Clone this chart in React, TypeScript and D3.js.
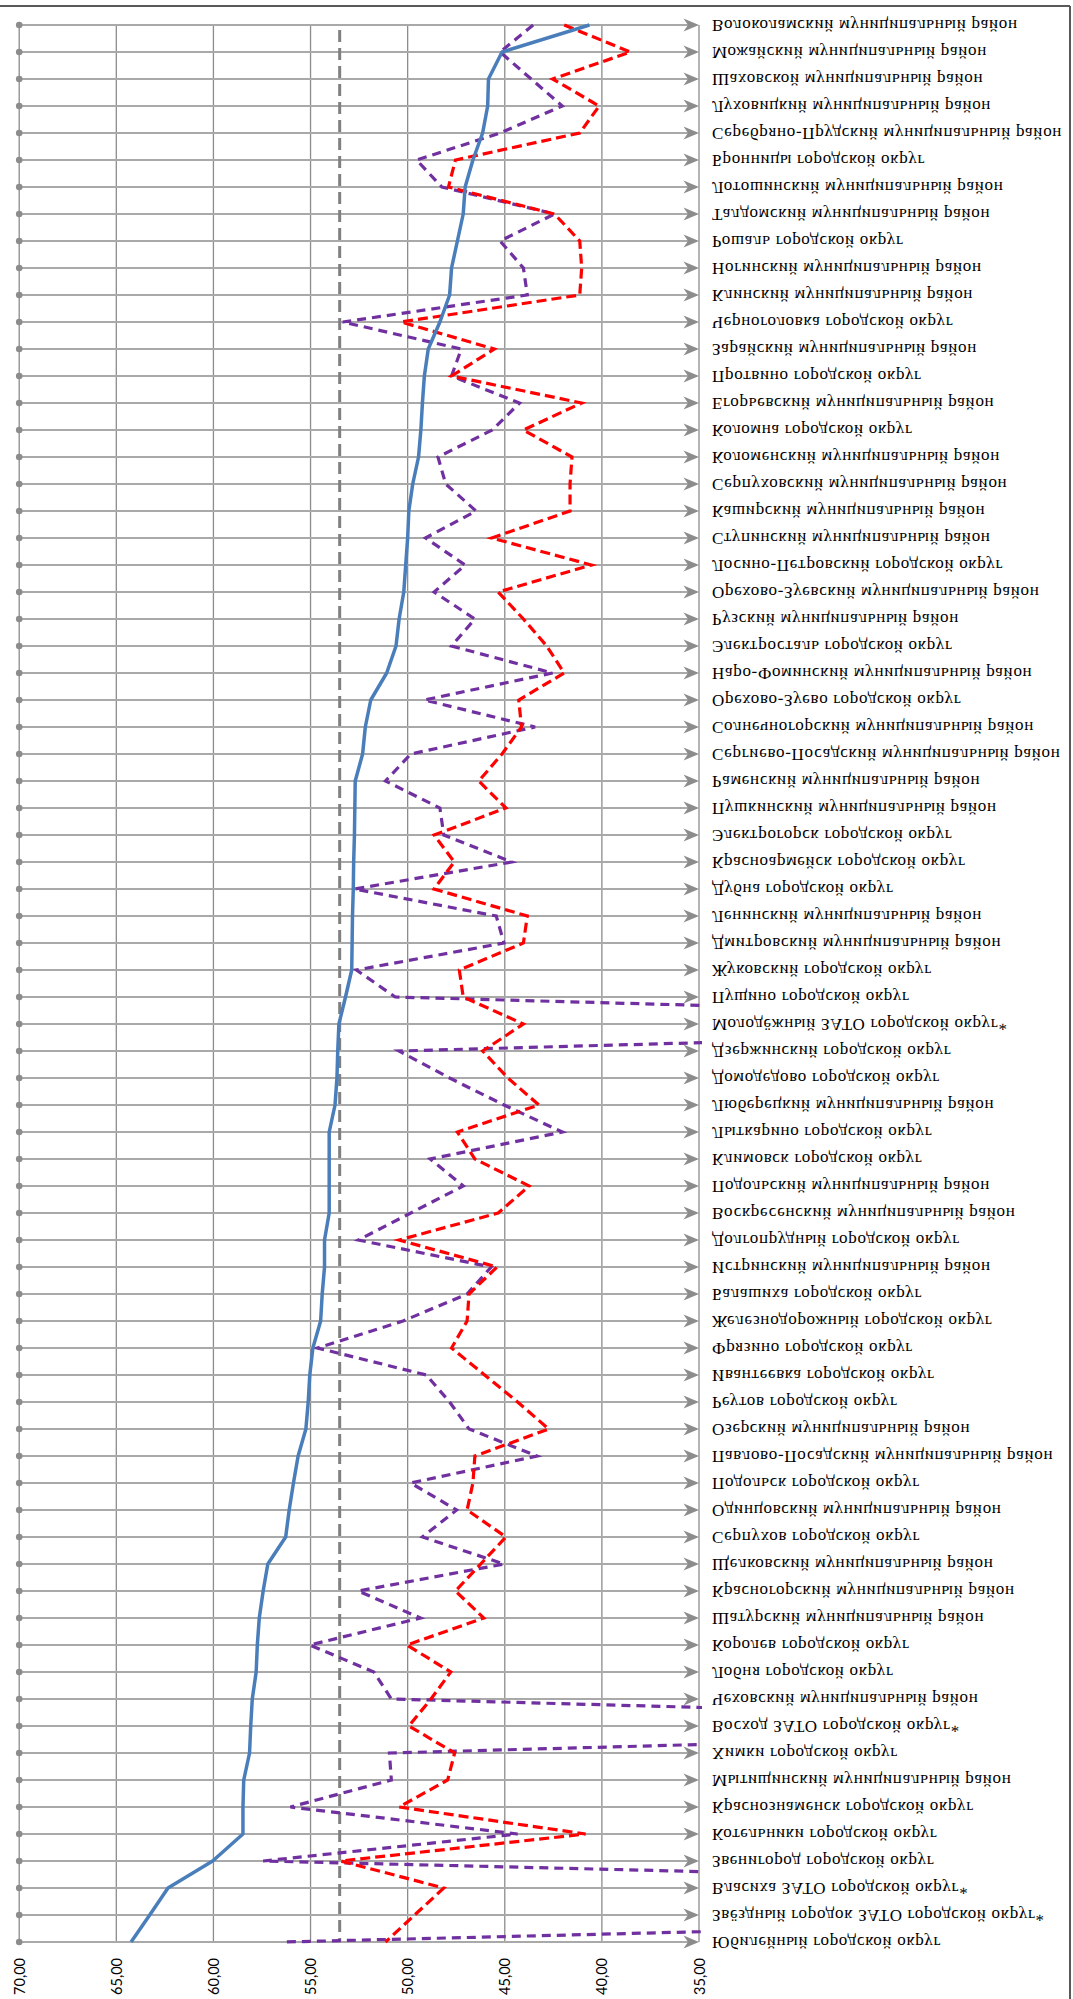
import React from "react";
import * as d3 from "d3";

const categories = [
  "Волоколамский муниципальный район",
  "Можайский муниципальный район",
  "Шаховской муниципальный район",
  "Луховицкий муниципальный район",
  "Серебряно-Прудский муниципальный район",
  "Бронницы городской округ",
  "Лотошинский муниципальный район",
  "Талдомский муниципальный район",
  "Рошаль городской округ",
  "Ногинский муниципальный район",
  "Клинский муниципальный район",
  "Черноголовка городской округ",
  "Зарайский муниципальный район",
  "Протвино городской округ",
  "Егорьевский муниципальный район",
  "Коломна городской округ",
  "Коломенский муниципальный район",
  "Серпуховский муниципальный район",
  "Каширский муниципальный район",
  "Ступинский муниципальный район",
  "Лосино-Петровский городской округ",
  "Орехово-Зуевский муниципальный район",
  "Рузский муниципальный район",
  "Электросталь городской округ",
  "Наро-Фоминский муниципальный район",
  "Орехово-Зуево городской округ",
  "Солнечногорский муниципальный  район",
  "Сергиево-Посадский муниципальный район",
  "Раменский муниципальный район",
  "Пушкинский муниципальный район",
  "Электрогорск городской округ",
  "Красноармейск городской округ",
  "Дубна городской округ",
  "Ленинский муниципальный район",
  "Дмитровский муниципальный район",
  "Жуковский городской округ",
  "Пущино городской округ",
  "Молодёжный ЗАТО городской округ*",
  "Дзержинский городской округ",
  "Домодедово городской округ",
  "Люберецкий муниципальный район",
  "Лыткарино городской округ",
  "Климовск городской округ",
  "Подольский муниципальный район",
  "Воскресенский муниципальный район",
  "Долгопрудный городской округ",
  "Истринский муниципальный район",
  "Балашиха городской округ",
  "Железнодорожный городской округ",
  "Фрязино городской округ",
  "Ивантеевка городской округ",
  "Реутов городской округ",
  "Озерский муниципальный район",
  "Павлово-Посадский муниципальный район",
  "Подольск городской округ",
  "Одинцовский муниципальный район",
  "Серпухов городской округ",
  "Щелковский муниципальный район",
  "Красногорский муниципальный район",
  "Шатурский муниципальный район",
  "Королев городской округ",
  "Лобня городской округ",
  "Чеховский  муниципальный район",
  "Восход ЗАТО городской округ*",
  "Химки городской округ",
  "Мытищинский муниципальный район",
  "Краснознаменск городской округ",
  "Котельники городской округ",
  "Звенигород городской округ",
  "Власиха ЗАТО городской округ*",
  "Звёздный городок ЗАТО  городской округ*",
  "Юбилейный городской округ",
];

const blueValues = [
  40.64, 45.14, 45.84, 45.88, 46.14, 46.64, 47.04, 47.14, 47.44, 47.74,
  47.84, 48.34, 48.94, 49.14, 49.24, 49.32, 49.44, 49.74, 49.94, 50.0,
  50.1, 50.2, 50.44, 50.6, 51.08, 51.9, 52.18, 52.32, 52.7, 52.72,
  52.74, 52.78, 52.8, 52.84, 52.86, 52.88, 53.2, 53.54, 53.6, 53.64,
  53.74, 54.04, 54.04, 54.04, 54.04, 54.28, 54.28, 54.4, 54.48, 54.88,
  55.04, 55.12, 55.24, 55.64, 55.88, 56.1, 56.28, 57.2, 57.44, 57.64,
  57.74, 57.8, 58.0, 58.08, 58.14, 58.44, 58.48, 58.48, 60.04, 62.34,
  63.28, 64.24,
];

const redValues = [
  41.94, 38.54, 42.54, 40.14, 41.14, 47.54, 47.9, 42.44, 41.14, 41.04,
  41.14, 50.34, 45.54, 47.74, 41.04, 44.04, 41.54, 41.64, 41.64, 45.68,
  40.54, 45.34, 44.04, 42.84, 41.94, 44.28, 44.14, 45.14, 46.34, 44.94,
  48.64, 47.6, 48.64, 43.84, 44.04, 47.34, 47.14, 44.04, 46.14, 44.84,
  43.24, 47.44, 46.54, 43.74, 45.34, 50.44, 45.4, 46.84, 46.94, 47.74,
  46.04, 44.34, 42.74, 46.54, 46.64, 46.94, 44.94, 46.24, 47.54, 46.08,
  50.04, 47.78, 48.8, 49.94, 47.58, 47.94, 50.44, 40.84, 53.44, 48.14,
  49.64, 51.14,
];

const purpleValues = [
  43.54, 45.24, 43.64, 42.04, 45.24, 49.54, 48.24, 42.44, 45.24, 44.04,
  43.84, 53.34, 47.24, 47.74, 44.24, 45.64, 48.44, 48.04, 46.48, 49.08,
  47.04, 48.64, 46.54, 47.74, 42.54, 49.14, 43.44, 49.84, 51.14, 48.34,
  48.14, 44.64, 52.74, 45.44, 45.04, 52.64, 50.64, 0, 50.44, 47.84,
  45.04, 42.04, 48.84, 47.14, 49.84, 52.54, 45.7, 46.94, 50.24, 54.64,
  49.04, 47.84, 46.84, 43.34, 49.84, 47.48, 49.24, 45.04, 52.54, 49.34,
  55.04, 51.74, 50.84, 0, 50.94, 50.84, 56.04, 44.34, 57.44, 0,
  0, 56.34,
];

const averageValue = 53.5;
const valueTicks = [70, 65, 60, 55, 50, 45, 40, 35];

const W = 1073;
const H = 1999;

export default function App() {
  const x = d3.scaleLinear().domain([70, 35]).range([19.2, 699]);
  const y = d3.scalePoint<string>().domain(categories).range([25, 1942]);

  const makeLine = (vals: number[]) =>
    d3
      .line<number>()
      .x((d) => x(d))
      .y((_, i) => y(categories[i]) as number)(vals) as string;

  const fmt = (v: number) => d3.format(".2f")(v).replace(".", ",");
  const yTop = y(categories[0]) as number;
  const yBot = y(categories[categories.length - 1]) as number;

  return (
    <svg
      width={W}
      height={H}
      style={{ position: "absolute", left: 0, top: 0, background: "#fff" }}
    >
      <defs>
        <clipPath id="plotClip">
          <rect x={0} y={0} width={x(35) + 3} height={H} />
        </clipPath>
      </defs>
      <rect x={0} y={0} width={W} height={H} fill="#fff" />
      {/* frame */}
      <line x1={0} x2={1070} y1={6} y2={6} stroke="#595959" strokeWidth={2} />
      <line x1={1070} x2={1070} y1={6} y2={H} stroke="#595959" strokeWidth={2} />

      {/* vertical gridlines */}
      {valueTicks.map((t) => (
        <line
          key={"v" + t}
          x1={x(t)}
          x2={x(t)}
          y1={yTop}
          y2={yBot}
          stroke="#8c8c8c"
          strokeWidth={1.3}
        />
      ))}
      {/* horizontal gridlines with arrows and dots */}
      {categories.map((c) => {
        const yy = y(c) as number;
        const tip = x(35);
        return (
          <g key={"h" + c}>
            <line
              x1={x(70)}
              x2={tip - 4}
              y1={yy}
              y2={yy}
              stroke="#a9a9a9"
              strokeWidth={2}
            />
            <path
              d={`M${tip},${yy} L${tip - 15.5},${yy - 6.5} L${tip - 11},${yy} L${tip - 15.5},${yy + 6.5} Z`}
              fill="#8c8c8c"
            />
            <circle cx={x(70)} cy={yy} r={3.3} fill="#8c8c8c" />
          </g>
        );
      })}

      {/* average line */}
      <line
        x1={x(averageValue)}
        x2={x(averageValue)}
        y1={30}
        y2={yBot}
        stroke="#808080"
        strokeWidth={3}
        strokeDasharray="12,6"
      />

      <g clipPath="url(#plotClip)">
        <path
          d={makeLine(purpleValues)}
          fill="none"
          stroke="#7030a0"
          strokeWidth={3.2}
          strokeDasharray="9,6"
        />
        <path
          d={makeLine(redValues)}
          fill="none"
          stroke="#ff0000"
          strokeWidth={3.2}
          strokeDasharray="10,5"
        />
        <path
          d={makeLine(blueValues)}
          fill="none"
          stroke="#4a7ebb"
          strokeWidth={3.5}
          strokeLinejoin="round"
        />
      </g>

      {/* value labels */}
      {valueTicks.map((t) => (
        <text
          key={"l" + t}
          transform={`translate(${x(t)},1958) rotate(-90)`}
          textAnchor="end"
          dominantBaseline="central"
          fontFamily="Lato, 'Open Sans', sans-serif"
          fontSize={14.5}
          fill="#000"
        >
          {fmt(t)}
        </text>
      ))}

      {/* category labels (vertically flipped) */}
      {categories.map((c) => (
        <text
          key={"c" + c}
          transform={`translate(712,${y(c)}) scale(1,-1)`}
          dominantBaseline="central"
          fontFamily="'Liberation Serif', 'Times New Roman', serif"
          fontSize={17}
          letterSpacing={0.7}
          fill="#000"
        >
          {c}
        </text>
      ))}
    </svg>
  );
}
